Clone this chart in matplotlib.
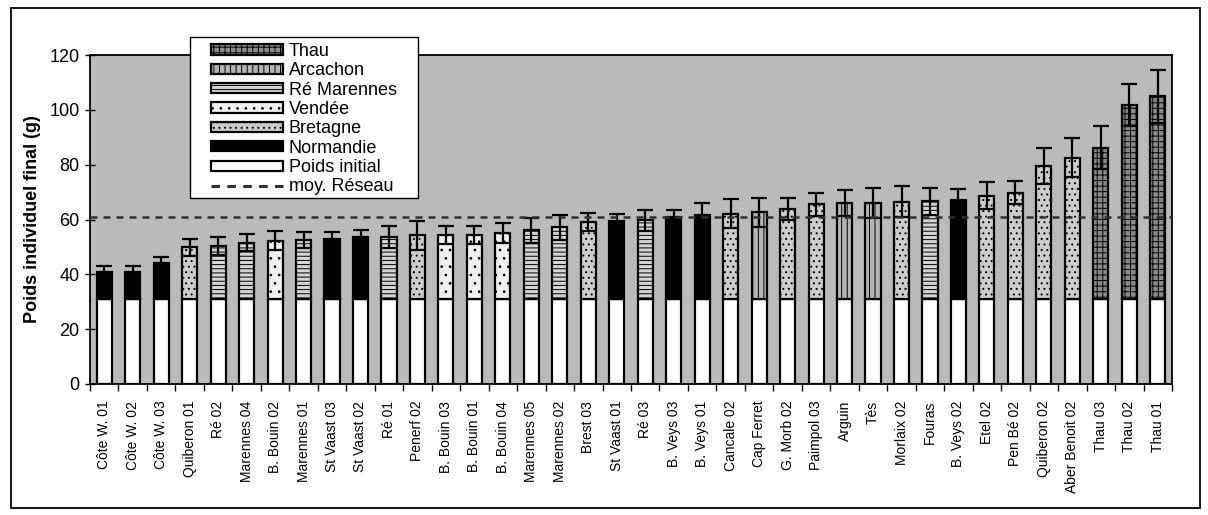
import matplotlib
matplotlib.use("Agg")
import matplotlib.pyplot as plt
from matplotlib.patches import Patch, Rectangle
from matplotlib.lines import Line2D
import numpy as np

plt.rcParams['font.family'] = ['Liberation Sans', 'DejaVu Sans']
plt.rcParams['hatch.linewidth'] = 0.7

categories = ["Côte W. 01", "Côte W. 02", "Côte W. 03", "Quiberon 01", "Ré 02",
              "Marennes 04", "B. Bouin 02", "Marennes 01", "St Vaast 03", "St Vaast 02",
              "Ré 01", "Penerf 02", "B. Bouin 03", "B. Bouin 01", "B. Bouin 04",
              "Marennes 05", "Marennes 02", "Brest 03", "St Vaast 01", "Ré 03",
              "B. Veys 03", "B. Veys 01", "Cancale 02", "Cap Ferret", "G. Morb 02",
              "Paimpol 03", "Arguin", "Tès", "Morlaix 02", "Fouras",
              "B. Veys 02", "Etel 02", "Pen Bé 02", "Quiberon 02", "Aber Benoit 02",
              "Thau 03", "Thau 02", "Thau 01"]
regions = ["Normandie", "Normandie", "Normandie", "Bretagne", "Ré Marennes",
           "Ré Marennes", "Vendée", "Ré Marennes", "Normandie", "Normandie",
           "Ré Marennes", "Bretagne", "Vendée", "Vendée", "Vendée",
           "Ré Marennes", "Ré Marennes", "Bretagne", "Normandie", "Ré Marennes",
           "Normandie", "Normandie", "Bretagne", "Arcachon", "Bretagne",
           "Bretagne", "Arcachon", "Arcachon", "Bretagne", "Ré Marennes",
           "Normandie", "Bretagne", "Bretagne", "Bretagne", "Bretagne",
           "Thau", "Thau", "Thau"]
final_weight = [40.7, 40.7, 44.3, 49.8, 50.4, 51.6, 52.3, 52.6, 52.9, 53.6,
                53.6, 54.2, 54.4, 54.5, 55.1, 56.0, 57.2, 59.0, 59.3, 59.7,
                60.8, 61.6, 62.1, 62.6, 64.0, 65.5, 66.0, 66.0, 66.5, 66.6,
                67.2, 68.6, 69.8, 79.6, 82.6, 86.2, 101.8, 105.0]
error = [2.4, 2.4, 2.2, 3.0, 3.2, 3.1, 3.6, 3.0, 2.4, 2.7,
         3.9, 5.3, 3.3, 3.3, 3.6, 4.5, 4.5, 3.2, 2.6, 3.9,
         2.6, 4.5, 5.3, 5.2, 4.0, 4.2, 4.8, 5.4, 5.7, 4.8,
         3.9, 4.9, 4.3, 6.6, 7.0, 7.9, 7.7, 9.7]
initial_weight = [31.0] * len(categories)
network_mean = 61.0

legend_order = ["Thau", "Arcachon", "Ré Marennes", "Vendée", "Bretagne", "Normandie"]
styles = {
    "Thau": dict(facecolor="#8a8a8a", hatch="+++"),
    "Arcachon": dict(facecolor="#b4b4b4", hatch="|||"),
    "Ré Marennes": dict(facecolor="#d4d4d4", hatch="----"),
    "Vendée": dict(facecolor="#f0f0f0", hatch=".."),
    "Bretagne": dict(facecolor="#cccccc", hatch="..."),
    "Normandie": dict(facecolor="#000000", hatch=None),
}
dash = (0, (2.8, 2.4))

fig = plt.figure(figsize=(12.08, 5.15), dpi=100)
ax = fig.add_axes([90/1208, 1-384/515, (1172-90)/1208, (384-55)/515])
ax.set_facecolor("#bababa")

x = np.arange(len(categories))
w = 0.53
init = np.array(initial_weight)
fin = np.array(final_weight)
ax.bar(x, init, width=w, color="white", edgecolor="black", linewidth=1.6, zorder=2)
for i, r in enumerate(regions):
    st = styles[r]
    ax.bar(x[i], fin[i] - init[i], bottom=init[i], width=w, facecolor=st["facecolor"],
           hatch=st["hatch"], edgecolor="black", linewidth=1.6, zorder=2)
ax.errorbar(x, fin, yerr=error, fmt="none", ecolor="black", elinewidth=1.6,
            capsize=5.5, capthick=1.6, zorder=3)
ax.axhline(network_mean, color="#303030", lw=1.8, ls=dash, zorder=4)

ax.set_xlim(-0.5, len(categories) - 0.5)
ax.set_ylim(0, 120)
ax.set_yticks(np.arange(0, 121, 20))
ax.tick_params(axis="y", labelsize=13, direction="inout", length=7, width=1, pad=4)
ax.set_xticks(x)
ax.set_xticklabels(categories, rotation=90, fontsize=10)
ax.set_xticks(np.arange(-0.5, len(categories), 1), minor=True)
ax.tick_params(axis="x", which="major", length=0, pad=12)
ax.tick_params(axis="x", which="minor", length=5, width=1, direction="out")
for s in ax.spines.values():
    s.set_linewidth(1.3)
ax.set_ylabel("Poids individuel final (g)", fontsize=13, fontweight="bold", labelpad=6)

handles = []
for r in legend_order:
    st = styles[r]
    handles.append(Patch(facecolor=st["facecolor"], hatch=st["hatch"], edgecolor="black",
                         linewidth=1.6, label=r))
handles.append(Patch(facecolor="white", edgecolor="black", linewidth=1.6, label="Poids initial"))
handles.append(Line2D([0], [0], color="#303030", lw=2.2, ls=dash, label="moy. Réseau"))

fig.patches.append(Rectangle((190/1208, 1-198/515), (418-190)/1208, (198-37)/515,
                             transform=fig.transFigure, facecolor="white", edgecolor="black",
                             linewidth=1.0, zorder=5))
leg = fig.legend(handles=handles, loc="upper left", bbox_to_anchor=(211/1208, 1-43/515),
                 bbox_transform=fig.transFigure, fontsize=13, frameon=False,
                 handlelength=4.0, handleheight=0.5, handletextpad=0.3,
                 labelspacing=0.13, borderpad=0, borderaxespad=0)
leg.set_zorder(10)

fig.patches.append(Rectangle((11/1208, 1-508/515), (1200-11)/1208, (508-8)/515,
                             transform=fig.transFigure, fill=False, edgecolor="black",
                             linewidth=1.3))

fig.savefig("out.png", dpi=100)
